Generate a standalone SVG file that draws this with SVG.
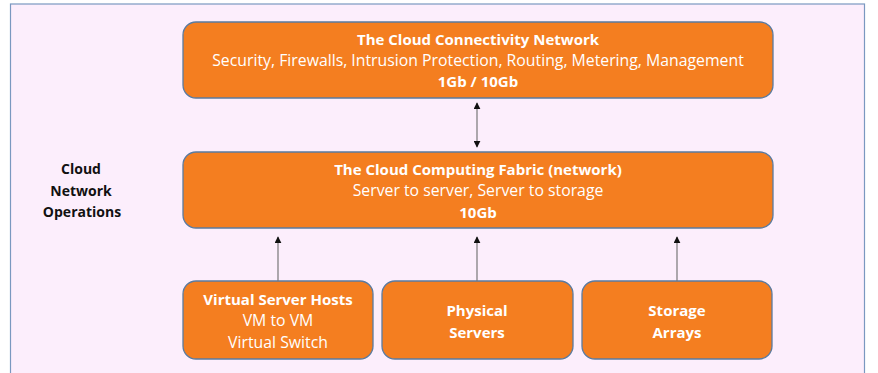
<svg xmlns="http://www.w3.org/2000/svg" width="878" height="373" viewBox="0 0 878 373">
<defs>
<style>
.box{fill:#F47E20;stroke:#5A7BA0;stroke-width:1.3}
.t{font-family:"Open Sans","Liberation Sans",sans-serif;font-size:15.8px;fill:#FFFFFF;text-anchor:middle}
.b{font-weight:bold;font-size:15px}
.lbl{font-family:"Open Sans","Liberation Sans",sans-serif;font-size:14px;font-weight:bold;fill:#111;text-anchor:middle}
.c{stroke:#777;stroke-width:1.2;fill:none}
</style>
<marker id="ah" viewBox="0 0 10 10" refX="9" refY="5" markerWidth="7" markerHeight="7" orient="auto-start-reverse" markerUnits="userSpaceOnUse">
<path d="M0,0 L10,5 L0,10 z" fill="#111"/>
</marker>
</defs>
<rect x="0" y="0" width="878" height="373" fill="#FFFFFF"/>
<rect x="10.5" y="4" width="854" height="380" fill="#FCEEFC" stroke="#7A98C0" stroke-width="1.2"/>
<g id="label-ops">
<text class="lbl" x="81" y="174">Cloud</text>
<text class="lbl" x="81" y="196">Network</text>
<text class="lbl" x="82" y="217">Operations</text>
</g>
<g id="connectivity">
<rect class="box" x="183" y="22" width="590" height="76" rx="13"/>
<text class="t b" x="478" y="45">The Cloud Connectivity Network</text>
<text class="t" x="478" y="66">Security, Firewalls, Intrusion Protection, Routing, Metering, Management</text>
<text class="t b" x="478" y="87">1Gb / 10Gb</text>
</g>
<g id="fabric">
<rect class="box" x="183" y="152" width="590" height="76" rx="13"/>
<text class="t b" x="478" y="175">The Cloud Computing Fabric (network)</text>
<text class="t" x="478" y="196">Server to server, Server to storage</text>
<text class="t b" x="478" y="218">10Gb</text>
</g>
<g id="vhosts">
<rect class="box" x="183" y="281" width="190" height="78" rx="13"/>
<text class="t b" x="278" y="305">Virtual Server Hosts</text>
<text class="t" x="278" y="326">VM to VM</text>
<text class="t" x="278" y="348">Virtual Switch</text>
</g>
<g id="physical">
<rect class="box" x="382" y="281" width="191" height="78" rx="13"/>
<text class="t b" x="477" y="316">Physical</text>
<text class="t b" x="477" y="338">Servers</text>
</g>
<g id="storage">
<rect class="box" x="582" y="281" width="190" height="78" rx="13"/>
<text class="t b" x="677" y="316">Storage</text>
<text class="t b" x="677" y="338">Arrays</text>
</g>
<g id="connectors">
<line class="c" x1="477" y1="103" x2="477" y2="147" marker-start="url(#ah)" marker-end="url(#ah)"/>
<line class="c" x1="278" y1="281" x2="278" y2="237" marker-end="url(#ah)"/>
<line class="c" x1="477" y1="281" x2="477" y2="237" marker-end="url(#ah)"/>
<line class="c" x1="677" y1="281" x2="677" y2="237" marker-end="url(#ah)"/>
</g>
</svg>
